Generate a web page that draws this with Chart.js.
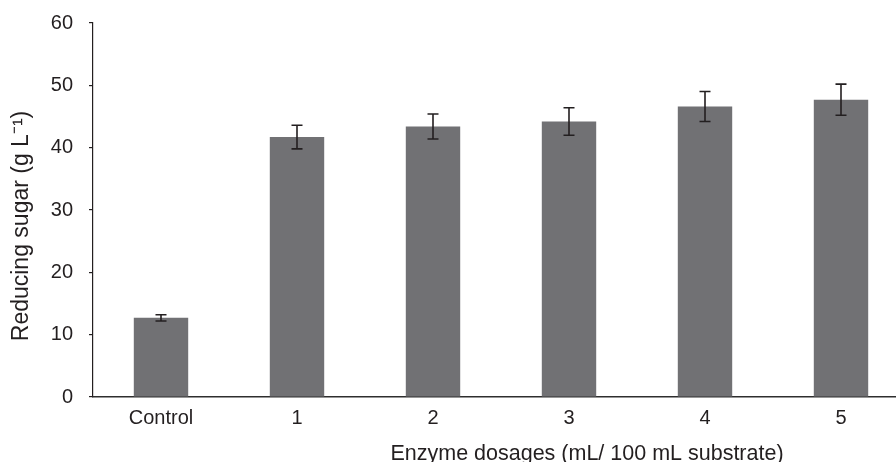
<!DOCTYPE html>
<html>
<head>
<meta charset="utf-8">
<script src="https://cdn.jsdelivr.net/npm/chart.js@4.4.1/dist/chart.umd.min.js"></script>
<style>
  html, body { margin: 0; padding: 0; background: #fff; overflow: hidden; }
  #wrap { width: 912px; height: 462px; }
</style>
</head>
<body>
<div id="wrap"><canvas id="chart"></canvas></div>
<script>
// Data
const dosageLabels = ['Control', '1', '2', '3', '4', '5'];
const sugarMeans = [12.7, 41.7, 43.4, 44.2, 46.6, 47.7];
const sugarErrors = [0.5, 1.9, 2.0, 2.2, 2.4, 2.5];
const yTicks = [0, 10, 20, 30, 40, 50, 60];

const ink = '#231f20';
const barGrey = '#717174';
const fontFamily = '"Liberation Sans", Arial, Helvetica, sans-serif';

// error bars drawn from the y scale
const errorBars = {
    id: 'errorBars',
    afterDatasetsDraw(chart) {
        const meta = chart.getDatasetMeta(0);
        const y = chart.scales.y;
        const ctx = chart.ctx;
        ctx.save();
        ctx.strokeStyle = ink;
        ctx.lineWidth = 1.6;
        meta.data.forEach((bar, i) => {
            const top = y.getPixelForValue(sugarMeans[i] + sugarErrors[i]);
            const bot = y.getPixelForValue(sugarMeans[i] - sugarErrors[i]);
            ctx.beginPath();
            ctx.moveTo(bar.x, top); ctx.lineTo(bar.x, bot);
            ctx.moveTo(bar.x - 5.5, top); ctx.lineTo(bar.x + 5.5, top);
            ctx.moveTo(bar.x - 5.5, bot); ctx.lineTo(bar.x + 5.5, bot);
            ctx.stroke();
        });
        ctx.restore();
    }
};

// axis titles sit off-centre in the original, so place them by hand
const axisTitles = {
    id: 'axisTitles',
    afterDraw(chart) {
        const ctx = chart.ctx;
        const x = chart.scales.x;
        ctx.save();
        ctx.fillStyle = ink;
        ctx.textAlign = 'center';
        ctx.textBaseline = 'alphabetic';
        ctx.font = '21.5px ' + fontFamily;
        ctx.fillText('Enzyme dosages (mL/ 100 mL substrate)', x.getPixelForValue(3) + 18, 460);
        ctx.font = '23px ' + fontFamily;
        ctx.translate(28, 226);
        ctx.rotate(-Math.PI / 2);
        ctx.fillText('Reducing sugar (g L\u207B\u00B9)', 0, 0);
        ctx.restore();
    }
};

new Chart(document.getElementById('chart'), {
    type: 'bar',
    data: {
        labels: dosageLabels,
        datasets: [{
            data: sugarMeans,
            backgroundColor: barGrey,
            borderWidth: 0,
            barPercentage: 0.4,
            categoryPercentage: 1.0
        }]
    },
    options: {
        responsive: true,
        maintainAspectRatio: false,
        animation: false,
        layout: { padding: { top: 23, right: 3, left: 0, bottom: 0 } },
        plugins: {
            legend: { display: false },
            tooltip: { enabled: false }
        },
        scales: {
            x: {
                grid: { display: false, drawTicks: false },
                border: { display: true, color: '#2e2e2e', width: 1.6 },
                ticks: { color: ink, font: { family: fontFamily, size: 20 }, padding: 9 },
                afterFit(scale) { scale.height = 65; }
            },
            y: {
                min: 0,
                max: 60,
                afterBuildTicks(scale) { scale.ticks = yTicks.map(v => ({ value: v })); },
                grid: { display: true, drawOnChartArea: false, drawTicks: true, tickLength: 4, color: ink, lineWidth: 1.2 },
                border: { display: true, color: ink, width: 1.2 },
                ticks: { color: ink, font: { family: fontFamily, size: 20 }, padding: 16 },
                afterFit(scale) {
                    scale.width = 93;
                    scale.paddingTop = 0;
                    scale.paddingBottom = 0;
                }
            }
        }
    },
    plugins: [errorBars, axisTitles]
});
</script>
</body>
</html>
